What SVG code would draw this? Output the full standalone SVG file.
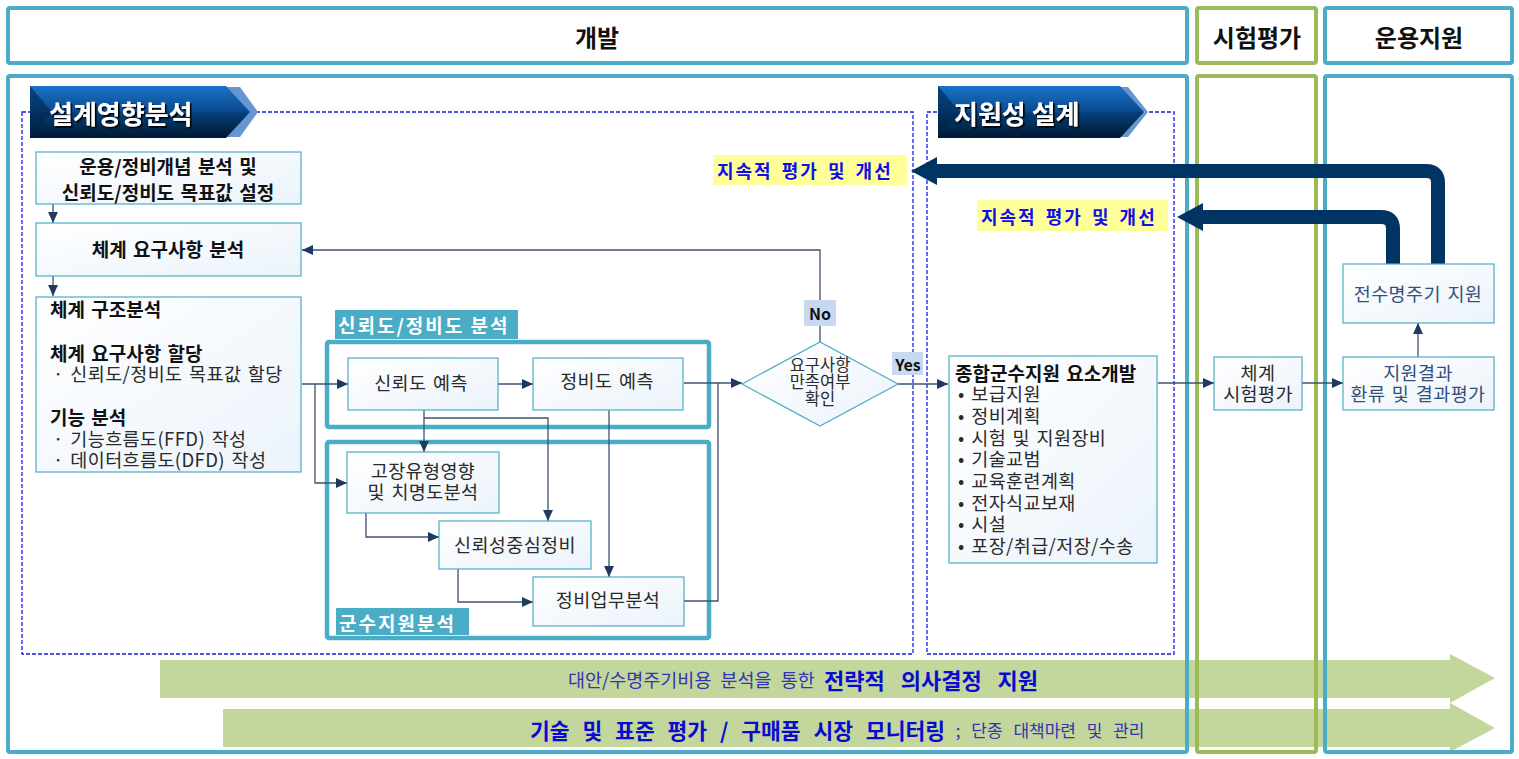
<svg xmlns="http://www.w3.org/2000/svg" width="1519" height="759" viewBox="0 0 1519 759">
<style>
text{font-family:"Noto Sans CJK KR","Noto Sans",sans-serif;}
.frameT{fill:none;stroke:#4BACC6;stroke-width:4;}
.frameG{fill:none;stroke:#9BBB59;stroke-width:4;}
.hdr{font-size:24px;font-weight:bold;fill:#111;text-anchor:middle;dominant-baseline:central;}
.dash{fill:none;stroke:#1A1AF0;stroke-width:1.3;stroke-dasharray:4 2;}
.box{fill:url(#bg);stroke:#4BACC6;stroke-width:1.2;}
.grp{fill:none;stroke:#4BACC6;stroke-width:4.5;}
.tag{fill:#4BACC6;}
.tagt{font-size:19px;font-weight:bold;fill:#fff;dominant-baseline:central;letter-spacing:2px;}
.bt{font-size:19px;font-weight:bold;fill:#111;dominant-baseline:central;word-spacing:2px;}
.nt{font-size:18.5px;fill:#2a2a2a;dominant-baseline:central;word-spacing:2px;letter-spacing:0.4px;}
.dt{font-size:16.5px;fill:#2a2a2a;dominant-baseline:central;text-anchor:middle;}
.c{text-anchor:middle;}
.bl{fill:#34507A;}
.con{fill:none;stroke:#3E5170;stroke-width:1.3;}
.conA{fill:none;stroke:#3E5170;stroke-width:1.3;marker-end:url(#ah);}
.navy{fill:none;stroke:#003462;stroke-width:14;}
.navyh{fill:#003462;}
.yel{fill:#FFFF99;}
.yt{font-size:18px;font-weight:bold;fill:#1010E6;dominant-baseline:central;letter-spacing:2px;word-spacing:3px;}
.lab{fill:#C6D9F1;}
.labt{font-size:16px;font-weight:bold;fill:#111;text-anchor:middle;dominant-baseline:central;}
.garr{fill:#C3D69B;}
.banT{font-size:26px;font-weight:bold;fill:#fff;dominant-baseline:central;filter:url(#sh);}
</style>
<defs>
<linearGradient id="bg" x1="0" y1="0" x2="1" y2="1">
<stop offset="0" stop-color="#FFFFFF"/>
<stop offset="1" stop-color="#EBF3FB"/>
</linearGradient>
<linearGradient id="ban" x1="0" y1="0" x2="0" y2="1">
<stop offset="0" stop-color="#1A72C6"/>
<stop offset="0.48" stop-color="#0B4C92"/>
<stop offset="0.52" stop-color="#033F7A"/>
<stop offset="1" stop-color="#02182F"/>
</linearGradient>
<filter id="sh" x="-10%" y="-30%" width="120%" height="160%">
<feDropShadow dx="1.6" dy="1.6" stdDeviation="0.4" flood-color="#000" flood-opacity="1"/>
</filter>
<marker id="ah" viewBox="0 0 10 10" refX="10" refY="5" markerWidth="11" markerHeight="11" markerUnits="userSpaceOnUse" orient="auto">
<path d="M0,0.5 L10,5 L0,9.5 z" fill="#1F3A5F"/>
</marker>
</defs>

<rect width="1519" height="759" fill="#fff"/>

<!-- bottom green arrows -->
<g id="arrow-strategy">
<polygon class="garr" points="160,660 1450,660 1450,654 1495,678 1450,703 1450,698 160,698"/>
<text x="568" y="679" style="dominant-baseline:central"><tspan style="font-size:18.5px;fill:#3434B4;word-spacing:5px">대안/수명주기비용 분석을 통한 </tspan><tspan style="font-size:22px;font-weight:bold;fill:#0A0AD0;word-spacing:11px">전략적 의사결정 지원</tspan></text>
</g>
<g id="arrow-tech">
<polygon class="garr" points="223,709 1450,709 1450,703 1495,728 1450,752 1450,747 223,747"/>
<text x="530" y="729" style="dominant-baseline:central"><tspan style="font-size:21.5px;font-weight:bold;fill:#0A0AD0;word-spacing:8px">기술 및 표준 평가 / 구매품 시장 모니터링</tspan><tspan style="font-size:17px;fill:#3434B4;word-spacing:7px"> ; 단종 대책마련 및 관리</tspan></text>
</g>

<!-- frames -->
<g id="frame-dev">
<rect class="frameT" x="8" y="8" width="1179" height="55" rx="2"/>
<text class="hdr" x="597" y="36">개발</text>
<rect class="frameT" x="8" y="76" width="1179" height="676" rx="2"/>
</g>
<g id="frame-test">
<rect class="frameG" x="1197" y="8" width="119" height="55" rx="2"/>
<text class="hdr" x="1257" y="36">시험평가</text>
<rect class="frameG" x="1197" y="76" width="119" height="676" rx="2"/>
</g>
<g id="frame-ops">
<rect class="frameT" x="1325" y="8" width="187" height="55" rx="2"/>
<text class="hdr" x="1419" y="36">운용지원</text>
<rect class="frameT" x="1325" y="76" width="187" height="676" rx="2"/>
</g>

<!-- dashed regions -->
<g id="region-design">
<rect class="dash" x="22" y="112" width="891" height="542"/>
<polygon points="30,87 240,87 258,112 240,137 30,137" fill="#6797D0"/>
<polygon points="30,86 226,86 250,112 226,138 30,138" fill="url(#ban)"/>
<polygon points="30,86 52,112 30,138" fill="#02254A" opacity="0.6"/>
<text class="banT" x="49" y="112">설계영향분석</text>
</g>
<g id="region-support">
<rect class="dash" x="927" y="112" width="247" height="542"/>
<polygon points="938,87 1128,87 1148,112 1128,137 938,137" fill="#6797D0"/>
<polygon points="938,86 1120,86 1144,112 1120,138 938,138" fill="url(#ban)"/>
<polygon points="938,86 960,112 938,138" fill="#02254A" opacity="0.6"/>
<text class="banT" x="954" y="112">지원성 설계</text>
</g>

<!-- group frames -->
<g id="group-rm">
<rect class="grp" x="327" y="342" width="382" height="85" rx="2"/>
<rect class="tag" x="335" y="310" width="183" height="29"/>
<text class="tagt" x="338" y="324">신뢰도/정비도 분석</text>
</g>
<g id="group-ls">
<rect class="grp" x="327" y="442" width="382" height="196" rx="2"/>
<rect class="tag" x="336" y="608" width="133" height="27"/>
<text class="tagt" x="339" y="622">군수지원분석</text>
</g>

<!-- connectors -->
<g id="connectors">
<path class="conA" d="M53,204 V223"/>
<path class="conA" d="M53,276 V296"/>
<path class="conA" d="M302,384 H348"/>
<path class="conA" d="M315,384 V483 H347"/>
<path class="conA" d="M498,384 H533"/>
<path class="conA" d="M424,410 V452"/>
<path class="conA" d="M424,418 H548 V521"/>
<path class="conA" d="M609,410 V577"/>
<path class="conA" d="M366,513 V537 H439"/>
<path class="conA" d="M458,569 V602 H533"/>
<path class="conA" d="M684,383 H742"/>
<path class="con" d="M684,601 H718 V383"/>
<path class="conA" d="M820,342 V250 H302"/>
<path class="conA" d="M898,384 H948"/>
<path class="conA" d="M1158,383 H1214"/>
<path class="conA" d="M1302,383 H1343"/>
<path class="conA" d="M1418,357 V323"/>
<path class="navy" d="M1438,264 V183 Q1438,171 1426,171 H935"/>
<polygon class="navyh" points="911,171 937,157 937,185"/>
<path class="navy" d="M1393,264 V229 Q1393,217 1381,217 H1201"/>
<polygon class="navyh" points="1177,217 1203,203 1203,231"/>
</g>

<!-- nodes -->
<g id="n-concept">
<rect class="box" x="36" y="152" width="265" height="52"/>
<text class="bt c" x="168" y="165">운용/정비개념 분석 및</text>
<text class="bt c" x="168" y="191">신뢰도/정비도 목표값 설정</text>
</g>
<g id="n-sysreq">
<rect class="box" x="36" y="223" width="265" height="53"/>
<text class="bt c" x="168" y="248">체계 요구사항 분석</text>
</g>
<g id="n-struct">
<rect class="box" x="36" y="297" width="265" height="175"/>
<text class="bt" x="50" y="308">체계 구조분석</text>
<text class="bt" x="50" y="352">체계 요구사항 할당</text>
<text class="nt" x="53" y="373">· 신뢰도/정비도 목표값 할당</text>
<text class="bt" x="50" y="416">기능 분석</text>
<text class="nt" x="53" y="438">· 기능흐름도(FFD) 작성</text>
<text class="nt" x="53" y="459">· 데이터흐름도(DFD) 작성</text>
</g>
<g id="n-relpred">
<rect class="box" x="348" y="358" width="150" height="52"/>
<text class="nt c" x="421" y="382">신뢰도 예측</text>
</g>
<g id="n-mntpred">
<rect class="box" x="533" y="358" width="150" height="52"/>
<text class="nt c" x="607" y="380">정비도 예측</text>
</g>
<g id="n-fmeca">
<rect class="box" x="347" y="452" width="152" height="61"/>
<text class="nt c" x="423" y="470">고장유형영향</text>
<text class="nt c" x="423" y="491">및 치명도분석</text>
</g>
<g id="n-rcm">
<rect class="box" x="439" y="521" width="152" height="48"/>
<text class="nt c" x="515" y="544">신뢰성중심정비</text>
</g>
<g id="n-mta">
<rect class="box" x="533" y="577" width="151" height="49"/>
<text class="nt c" x="608" y="599">정비업무분석</text>
</g>
<g id="n-decision">
<polygon points="742,384 820,342 898,384 820,426" fill="url(#bg)" stroke="#4BACC6" stroke-width="1.2"/>
<text class="dt" x="820" y="364">요구사항</text>
<text class="dt" x="820" y="381">만족여부</text>
<text class="dt" x="820" y="398">확인</text>
</g>
<g id="lbl-no">
<rect class="lab" x="804" y="300" width="32" height="26"/>
<text class="labt" x="820" y="313">No</text>
</g>
<g id="lbl-yes">
<rect class="lab" x="892" y="352" width="31" height="23"/>
<text class="labt" x="908" y="364">Yes</text>
</g>
<g id="n-ils">
<rect class="box" x="949" y="356" width="208" height="207"/>
<text class="bt" x="955" y="372">종합군수지원 요소개발</text>
<text class="nt" x="958" y="393">• 보급지원</text>
<text class="nt" x="958" y="415">• 정비계획</text>
<text class="nt" x="958" y="437">• 시험 및 지원장비</text>
<text class="nt" x="958" y="458">• 기술교범</text>
<text class="nt" x="958" y="480">• 교육훈련계획</text>
<text class="nt" x="958" y="502">• 전자식교보재</text>
<text class="nt" x="958" y="523">• 시설</text>
<text class="nt" x="958" y="545">• 포장/취급/저장/수송</text>
</g>
<g id="n-systest">
<rect class="box" x="1214" y="357" width="88" height="53"/>
<text class="nt c" x="1258" y="372">체계</text>
<text class="nt c" x="1258" y="393">시험평가</text>
</g>
<g id="n-feedback">
<rect class="box" x="1343" y="357" width="151" height="53"/>
<text class="nt c bl" x="1418" y="372">지원결과</text>
<text class="nt c bl" x="1418" y="393">환류 및 결과평가</text>
</g>
<g id="n-lifecycle">
<rect class="box" x="1343" y="264" width="151" height="59"/>
<text class="nt c bl" x="1418" y="293">전수명주기 지원</text>
</g>
<g id="lbl-improve1">
<rect class="yel" x="713" y="155" width="194" height="30"/>
<text class="yt" x="717" y="170">지속적 평가 및 개선</text>
</g>
<g id="lbl-improve2">
<rect class="yel" x="977" y="200" width="191" height="31"/>
<text class="yt" x="981" y="216">지속적 평가 및 개선</text>
</g>
</svg>
